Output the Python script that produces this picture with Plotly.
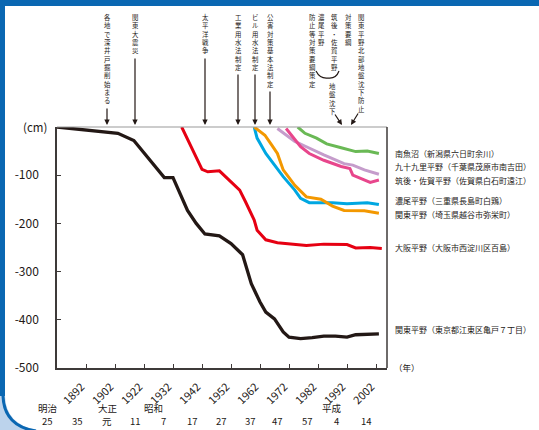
import plotly.graph_objects as go
import numpy as np

# ---------------- data ----------------
tick_years = [1892, 1902, 1922, 1932, 1942, 1952, 1962, 1972, 1982, 1992, 2002]
y_ticks = [0, -100, -200, -300, -400, -500]
era_names = ["明治", "大正", "昭和", "平成"]
era_numbers = ["25", "35", "元", "11", "7", "17", "27", "37", "47", "57", "4", "14"]

kanto_tokyo_years = [1882, 1904, 1915, 1924, 1929, 1932, 1937, 1940, 1943, 1948, 1952, 1956, 1959,
                     1962, 1964, 1967, 1970, 1972, 1976, 1980, 1984, 1988, 1992, 1995, 2003]
kanto_tokyo_vals = [0, -13, -28, -69, -105, -105, -173, -200, -222, -226, -242, -265, -325,
                    -363, -384, -398, -425, -436, -439, -437, -434, -434, -436, -431, -429]

osaka_years = [1935, 1939, 1942, 1944, 1948, 1952, 1955, 1957, 1960, 1961, 1964, 1968, 1972,
               1978, 1984, 1992, 1995, 2000, 2004]
osaka_vals = [0, -50, -88, -93, -91, -114, -131, -155, -193, -214, -234, -240, -242,
              -246, -243, -244, -251, -250, -252]

nobi_years = [1960, 1961, 1964, 1970, 1974, 1976, 1979, 1987, 1992, 1999, 2003]
nobi_vals = [0, -23, -55, -103, -131, -148, -157, -157, -159, -157, -161]

kanto_saitama_years = [1960, 1963.7, 1966, 1968, 1970, 1974, 1978, 1983, 1987, 1991, 1998, 2003]
kanto_saitama_vals = [0, -17, -37, -55, -89, -121, -145, -150, -164, -173, -174, -179]

minamiuonuma_years = [1975, 1977.5, 1981.5, 1985, 1990, 1995, 1999, 2003]
minamiuonuma_vals = [0, -13, -23, -35, -43, -51, -50, -55]

kujukuri_years = [1968, 1974, 1978, 1984, 1991, 1994, 1998, 2003]
kujukuri_vals = [-3, -30, -41, -58, -76, -79, -89, -98]

chikugo_years = [1971, 1974, 1976, 1979, 1984, 1990, 1993, 1994, 2000, 2003]
chikugo_vals = [-3, -27, -41, -55, -69, -82, -86, -100, -115, -110]

series_labels = ["南魚沼（新潟県六日町余川）",
                 "九十九里平野（千葉県茂原市南吉田）",
                 "筑後・佐賀平野（佐賀県白石町遠江）",
                 "濃尾平野（三重県長島町白鶏）",
                 "関東平野（埼玉県越谷市弥栄町）",
                 "大阪平野（大阪市西淀川区百島）",
                 "関東平野（東京都江東区亀戸７丁目）"]
label_levels = [-54, -81, -110, -152, -181, -249, -420]

# ---------------- helpers ----------------
axis_years = [1882] + tick_years + [2012]
axis_pos = list(range(len(axis_years)))


def pos(years):
    return np.interp(years, axis_years, axis_pos)


L, R, T, B = 57, 387, 127, 368
W, H = 539, 430
XMAX = (R - L) / 29.0


def fx(px):
    return (px - L) / (R - L)


def fy(py):
    return (B - py) / (B - T)


TXT = "#231815"
FONT = "Noto Sans CJK JP"

fig = go.Figure()

series = [
    (kanto_tokyo_years, kanto_tokyo_vals, "#231815", 3.3),
    (osaka_years, osaka_vals, "#e60012", 3),
    (nobi_years, nobi_vals, "#00a7e1", 3),
    (kanto_saitama_years, kanto_saitama_vals, "#f39800", 3),
    (minamiuonuma_years, minamiuonuma_vals, "#6ab955", 3),
    (kujukuri_years, kujukuri_vals, "#c59ccb", 3),
    (chikugo_years, chikugo_vals, "#e8468c", 3),
]
for yrs, vals, col, w in series:
    fig.add_trace(go.Scatter(x=pos(yrs), y=vals, mode="lines",
                             line=dict(color=col, width=w), showlegend=False,
                             hoverinfo="skip"))

annotations = []
# series labels at right
for lab, lv in zip(series_labels, label_levels):
    annotations.append(dict(x=fx(393), xref="paper", y=lv, yref="y", text=lab,
                            showarrow=False, xanchor="left", yanchor="middle",
                            font=dict(family=FONT, size=8, color=TXT)))
annotations.append(dict(x=fx(392), xref="paper", y=fy(367), yref="paper", text="（年）",
                        showarrow=False, xanchor="left", yanchor="middle",
                        font=dict(family=FONT, size=8.5, color=TXT)))
# unit label at the top of the y axis
annotations.append(dict(x=fx(49), xref="paper", y=y_ticks[0], yref="y", text="(cm)",
                        showarrow=False, xanchor="right", yanchor="middle",
                        font=dict(family=FONT, size=11.5, color=TXT)))

# x tick labels (rotated 45 degrees), anchored at their ticks
for ty in tick_years:
    annotations.append(dict(x=pos(ty) / XMAX, xref="paper", y=fy(376), yref="paper",
                            text=str(ty), showarrow=False, textangle=-45,
                            xanchor="right", yanchor="top", xshift=4,
                            font=dict(family=FONT, size=11, color=TXT)))

# era labels
era_name_px = [48, 108, 153, 332]
for nm, px in zip(era_names, era_name_px):
    annotations.append(dict(x=fx(px), xref="paper", y=fy(408), yref="paper", text=nm,
                            showarrow=False, xanchor="center", yanchor="middle", borderpad=0,
                            font=dict(family=FONT, size=9.5, color=TXT)))
era_number_px = [47, 77, 107, 135, 163, 192, 221, 250, 277, 307, 336, 366]
for nm, px in zip(era_numbers, era_number_px):
    annotations.append(dict(x=fx(px), xref="paper", y=fy(421), yref="paper",
                            text=nm, showarrow=False, xanchor="center", yanchor="middle",
                            borderpad=0, font=dict(family=FONT, size=9.5, color=TXT)))

# vertical event texts (one character per line)
columns = [
    (107, 13, "各地で深井戸掘削始まる"),
    (135, 13, "関東大震災"),
    (205, 13, "太平洋戦争"),
    (238, 13, "工業用水法制定"),
    (255, 13, "ビル用水法制定"),
    (270, 13, "公害対策基本法制定"),
    (312, 13, "防止等対策要綱策定"),
    (321, 13, "濃尾平野"),
    (334, 13, "筑後・佐賀平野"),
    (332, 82, "地盤沈下"),
    (348, 13, "対策要綱"),
    (361, 13, "関東平野北部地盤沈下防止"),
]
for px, top, text in columns:
    annotations.append(dict(x=fx(px), xref="paper", y=fy(top - 1), yref="paper",
                            text="<br>".join(text), showarrow=False,
                            xanchor="center", yanchor="top", align="center", borderpad=0,
                            font=dict(family=FONT, size=6.4, color=TXT)))

# arrows (head px, head py, tail px, tail py)
arrows = [
    (107, 125, 107, 107),
    (135, 125, 135, 57),
    (205, 125, 205, 57),
    (238, 125, 238, 73),
    (255, 125, 255, 73),
    (270, 125, 270, 90),
    (342, 125, 334, 113),
    (351, 125, 359, 112),
]
for hx, hy, tx, ty in arrows:
    annotations.append(dict(x=fx(hx), xref="paper", y=fy(hy), yref="paper", text="",
                            showarrow=True, ax=tx - hx, ay=ty - hy, axref="pixel", ayref="pixel",
                            arrowhead=2, arrowsize=0.9, arrowwidth=1.2, arrowcolor=TXT,
                            standoff=0, startstandoff=0))

shapes = [
    dict(type="line", xref="paper", yref="paper", x0=0, x1=1, y0=1, y1=1,
         line=dict(color="#9a9a9a", width=1.2)),
    dict(type="line", xref="paper", yref="paper", x0=1, x1=1, y0=0, y1=1,
         line=dict(color="#3e3a39", width=1.5)),
    dict(type="path", xref="paper", yref="paper",
         path=f"M {fx(316)},{fy(71)} Q {fx(320)},{fy(79)} {fx(328)},{fy(78)} "
              f"Q {fx(336)},{fy(79)} {fx(339)},{fy(71)}",
         line=dict(color=TXT, width=1.2)),
    dict(type="rect", xref="paper", yref="paper", x0=fx(0), x1=fx(W), y0=fy(0), y1=fy(6),
         fillcolor="#0a67b2", line=dict(width=0), layer="above"),
    dict(type="rect", xref="paper", yref="paper", x0=fx(0), x1=fx(5), y0=fy(0), y1=fy(396),
         fillcolor="#0a67b2", line=dict(width=0), layer="above"),
    dict(type="path", xref="paper", yref="paper",
         path=f"M {fx(0)},{fy(396)} L {fx(5)},{fy(396)} Q {fx(6)},{fy(424)} {fx(36)},{fy(430)} "
              f"L {fx(0)},{fy(430)} Z",
         fillcolor="#bcd3ec", line=dict(width=0), layer="above"),
    dict(type="path", xref="paper", yref="paper",
         path=f"M {fx(3)},{fy(396)} Q {fx(4)},{fy(426)} {fx(36)},{fy(431)}",
         line=dict(color="#0a67b2", width=3), layer="above"),
]

fig.update_layout(
    width=W, height=H, autosize=False,
    margin=dict(l=L, r=W - R, t=T, b=H - B, pad=0),
    paper_bgcolor="white", plot_bgcolor="white",
    font=dict(family=FONT, color=TXT),
    annotations=annotations, shapes=shapes,
    xaxis=dict(range=[0, XMAX], tickmode="array",
               tickvals=pos(tick_years), ticktext=["" for _ in tick_years],
               ticks="inside", ticklen=4, tickcolor="#3e3a39",
               showline=True, linecolor="#3e3a39", linewidth=1.5,
               showgrid=False, zeroline=False),
    yaxis=dict(range=[-500, 0], tickmode="array",
               tickvals=y_ticks,
               ticktext=[""] + [str(v) for v in y_ticks[1:]],
               ticks="inside", ticklen=4, tickcolor="#3e3a39",
               showline=True, linecolor="#3e3a39", linewidth=1.5,
               showgrid=False, zeroline=False, ticklabelstandoff=14,
               tickfont=dict(size=12, color=TXT)),
)

fig.write_html("out.html", config={"displayModeBar": False},
               post_script="document.body.style.margin='0';")
